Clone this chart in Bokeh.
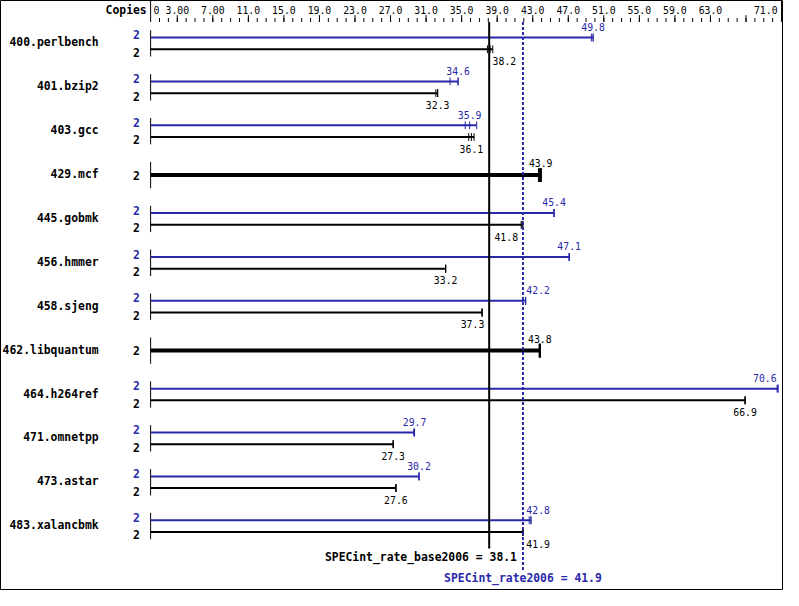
from bokeh.plotting import figure
from bokeh.models import Range1d, ColumnDataSource
from bokeh.core.properties import value
from bokeh.embed import file_html
from bokeh.resources import INLINE

# ---------------- data ----------------
benchmarks = ["400.perlbench", "401.bzip2", "403.gcc", "429.mcf", "445.gobmk",
              "456.hmmer", "458.sjeng", "462.libquantum", "464.h264ref",
              "471.omnetpp", "473.astar", "483.xalancbmk"]
base_copies = [2, 2, 2, 2, 2, 2, 2, 2, 2, 2, 2, 2]
peak_copies = [2, 2, 2, None, 2, 2, 2, None, 2, 2, 2, 2]
base_ratio = [38.2, 32.3, 36.1, 43.9, 41.8, 33.2, 37.3, 43.8, 66.9, 27.3, 27.6, 41.9]
peak_ratio = [49.8, 34.6, 35.9, None, 45.4, 47.1, 42.2, None, 70.6, 29.7, 30.2, 42.8]
base_runs = [[37.9, 38.2, 38.5], [32.1, 32.3, 32.3], [35.8, 36.1, 36.4],
             [43.7, 43.9, 43.9], [41.7, 41.8, 41.9], [33.2, 33.2, 33.2],
             [37.3, 37.3, 37.3], [43.8, 43.8, 43.8], [66.9, 66.9, 66.9],
             [27.3, 27.3, 27.3], [27.6, 27.6, 27.6], [41.9, 41.9, 41.9]]
peak_runs = [[49.6, 49.8, 49.8], [33.7, 34.6, 34.6], [35.4, 35.9, 36.7],
             None, [45.4, 45.4, 45.4], [47.1, 47.1, 47.1],
             [42.2, 42.2, 42.2], None, [70.5, 70.6, 70.6],
             [29.6, 29.7, 29.7], [30.2, 30.2, 30.2], [42.6, 42.8, 42.8]]
spec_base = 38.1
spec_peak = 41.9
base_metric = "SPECint_rate_base2006"
peak_metric = "SPECint_rate2006"
tick_values = [0, 3, 7, 11, 15, 19, 23, 27, 31, 35, 39, 43, 47, 51, 55, 59, 63, 71]
tick_labels = ["0", "3.00", "7.00", "11.0", "15.0", "19.0", "23.0", "27.0", "31.0",
               "35.0", "39.0", "43.0", "47.0", "51.0", "55.0", "59.0", "63.0", "71.0"]
axis_max = 71

# ---------------- layout helpers ----------------
BLUE = "#2828aa"
BLACK = "#000000"
FONT = "DejaVu Sans Mono"
W0, H0 = 799, 606
LEFT0, RIGHT0 = 153, 796
PX = (RIGHT0 - LEFT0) / axis_max


def X(px):
    return (px - LEFT0) / PX


p = figure(width=783, height=590, x_range=Range1d(X(0), X(W0 - 1)),
           y_range=Range1d(H0 - 1, 0), output_backend="svg", toolbar_location=None,
           min_border=0, tools="")
p.axis.visible = False
p.grid.visible = False
p.outline_line_color = "black"
p.outline_line_width = 1
p.background_fill_color = "white"
p.border_fill_color = "white"

BOLD = dict(text_font=value(FONT), text_font_style="bold", text_font_size="11.4px",
            text_baseline="middle")
NORM = dict(text_font=value(FONT), text_font_size="9.8px", text_baseline="middle")

# ---------------- header (scale) ----------------
p.text(x=[X(149)], y=[10], text=["Copies"], text_align="right", text_color=BLACK, **BOLD)
p.segment(x0=[0, axis_max], y0=[0, 0], x1=[0, axis_max], y1=[22, 22],
          line_color=BLACK, line_width=1)
minor = list(range(1, axis_max))
p.segment(x0=minor, y0=[18] * len(minor), x1=minor, y1=[22] * len(minor),
          line_color=BLACK, line_width=1)
major = [v for v in tick_values if 0 < v < axis_max] + [67]
p.segment(x0=major, y0=[15] * len(major), x1=major, y1=[22] * len(major),
          line_color=BLACK, line_width=1)
p.text(x=[tick_values[0]], y=[10], text=[tick_labels[0]], text_align="left",
       x_offset=3, text_color=BLACK, **NORM)
p.text(x=tick_values[1:-1], y=[10] * (len(tick_values) - 2), text=tick_labels[1:-1],
       text_align="center", text_color=BLACK, **NORM)
p.text(x=[tick_values[-1]], y=[10], text=[tick_labels[-1]], text_align="right",
       x_offset=-4, text_color=BLACK, **NORM)

# ---------------- label placement (avoid reference lines) ----------------
HALF = 12.5 / PX


def label_x(v):
    c = v
    for r in (spec_base, spec_peak):
        if abs(c - r) < HALF + 2.5 / PX:
            if v >= r:
                c = r + HALF + 3 / PX
            else:
                c = r - HALF - 4.5 / PX
    if c + HALF > axis_max - 4.5 / PX:
        c = axis_max - 4.5 / PX - HALF
    return c


# ---------------- rows ----------------
bars = dict(x0=[], x1=[], y=[], color=[], w=[])
ticks = dict(x=[], y0=[], y1=[], color=[], w=[])
vals = dict(x=[], y=[], text=[], color=[])
names = dict(x=[], y=[], text=[])
copies = dict(x=[], y=[], text=[], color=[])
axes = dict(y0=[], y1=[])

for i, name in enumerate(benchmarks):
    yc = 44 + 45 * i
    axes["y0"].append(yc - 13.5)
    axes["y1"].append(yc + 13.5)
    names["x"].append(X(100))
    names["y"].append(yc - 1)
    names["text"].append(name)
    single = peak_ratio[i] is None
    series = []
    if single:
        series.append((base_ratio[i], base_runs[i], base_copies[i], BLACK, yc, 4, 14, -12, 0))
    else:
        series.append((peak_ratio[i], peak_runs[i], peak_copies[i], BLUE, yc - 6, 2, 8, -11, -3))
        series.append((base_ratio[i], base_runs[i], base_copies[i], BLACK, yc + 6, 2, 8, 12, 3))
    for val, runs, cp, col, yb, lw, th, loff, coff in series:
        bars["x0"].append(0)
        bars["x1"].append(max(runs))
        bars["y"].append(yb)
        bars["color"].append(col)
        bars["w"].append(lw)
        for r in runs:
            ticks["x"].append(r)
            ticks["y0"].append(yb - th / 2)
            ticks["y1"].append(yb + th / 2)
            ticks["color"].append(col)
            ticks["w"].append(2 if single else 1)
        vals["x"].append(label_x(val))
        vals["y"].append(yb + loff)
        vals["text"].append("%.1f" % val)
        vals["color"].append(col)
        copies["x"].append(X(142))
        copies["y"].append(yb + coff)
        copies["text"].append(str(cp))
        copies["color"].append(col)

p.segment(x0=0, y0="y0", x1=0, y1="y1", source=ColumnDataSource(axes),
          line_color=BLACK, line_width=1)
p.segment(x0="x0", y0="y", x1="x1", y1="y", source=ColumnDataSource(bars),
          line_color="color", line_width="w")
p.segment(x0="x", y0="y0", x1="x", y1="y1", source=ColumnDataSource(ticks),
          line_color="color", line_width="w")
p.text(x="x", y="y", text="text", source=ColumnDataSource(names), text_align="right",
       text_color=BLACK, **BOLD)
p.text(x="x", y="y", text="text", source=ColumnDataSource(copies), text_align="right",
       text_color="color", **BOLD)
p.text(x="x", y="y", text="text", source=ColumnDataSource(vals), text_align="center",
       text_color="color", **NORM)

# ---------------- reference lines ----------------
p.segment(x0=[spec_base], y0=[22], x1=[spec_base], y1=[562], line_color=BLACK, line_width=2)
p.segment(x0=[spec_peak], y0=[22], x1=[spec_peak], y1=[584], line_color=BLUE, line_width=2,
          line_dash="3 2")
p.text(x=[spec_peak], y=[571], text=["%s = %.1f" % (base_metric, spec_base)],
       text_align="right", x_offset=-6, text_color=BLACK, **BOLD)
p.text(x=[spec_peak], y=[592], text=["%s = %.1f" % (peak_metric, spec_peak)],
       text_align="center", text_color=BLUE, **BOLD)

open("out.html", "w").write(file_html(p, INLINE))
